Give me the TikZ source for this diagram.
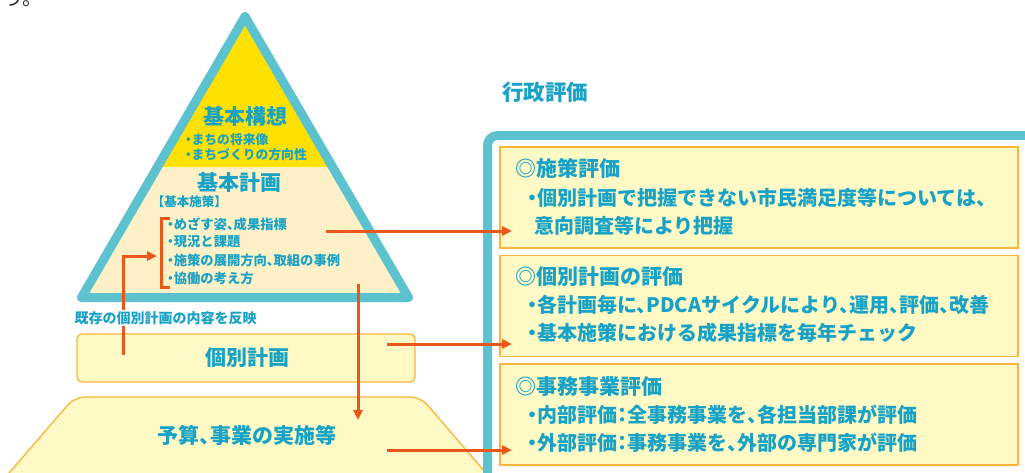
\documentclass[tikz,border=0pt]{standalone}
\usepackage{fontspec}
\setmainfont{Noto Sans CJK JP}[RawFeature=+halt]
\usetikzlibrary{arrows.meta}
\definecolor{tealc}{HTML}{5DC2D0}
\definecolor{txt}{HTML}{17A2C6}
\definecolor{ylw}{HTML}{FFE100}
\definecolor{pale}{HTML}{FFF1C7}
\definecolor{boxfill}{HTML}{FFF9C6}
\definecolor{boxline}{HTML}{FBB43C}
\definecolor{arr}{HTML}{E9581B}
\begin{document}
\begin{tikzpicture}[x=1pt,y=-1pt,
  t/.style={text=txt,inner sep=0pt},
  big/.style={t,font=\fontsize{21}{24}\selectfont\bfseries},
  head/.style={t,font=\fontsize{21}{24}\selectfont\bfseries,anchor=west},
  body/.style={t,font=\fontsize{20}{24}\selectfont\bfseries,anchor=west},
  small/.style={t,font=\fontsize{13.3}{15}\selectfont\bfseries,anchor=west},
  smaller/.style={t,font=\fontsize{12.8}{15}\selectfont\bfseries,anchor=west},
  evalbox/.style={draw=boxline,fill=boxfill,line width=1.3pt,inner sep=0pt,minimum width=518pt},
  conn/.style={draw=arr,line width=3pt},
  arrowc/.style={conn,-{Triangle[length=10pt,width=9pt]}}
]
\useasboundingbox (0,0) rectangle (1025,472);
% fragment of preceding text
\node[inner sep=0pt,anchor=base west,font=\fontsize{20}{24}\selectfont,text=black!85] (frag) at (3,5) {う。};

% pyramid
\path[fill=pale] (245,16.5) -- (81.5,297.5) -- (408.5,297.5) -- cycle;
\begin{scope}
  \clip (245,16.5) -- (81.5,297.5) -- (408.5,297.5) -- cycle;
  \fill[ylw] (0,0) rectangle (500,167);
\end{scope}
\draw[tealc,line width=9pt,line join=round] (245,16.5) -- (81.5,297.5) -- (408.5,297.5) -- cycle;

\node[big] (koso) at (245,117) {基本構想};
\node[smaller] (k1) at (185,140) {・まちの将来像};
\node[smaller] (k2) at (185,155) {・まちづくりの方向性};
\node[big] (keikaku) at (239,183) {基本計画};
\node[smaller,font=\fontsize{12.5}{15}\selectfont\bfseries] (sesaku) at (158,202) {【基本施策】};
\node[small] (i1) at (167,224) {・めざす姿、成果指標};
\node[small] (i2) at (167,242) {・現況と課題};
\node[small] (i3) at (167,260) {・施策の展開方向、取組の事例};
\node[small] (i4) at (167,278) {・協働の考え方};

% individual plan box
\node[draw=boxline,fill=boxfill,line width=1.3pt,rounded corners=5pt,minimum width=338pt,minimum height=48pt,inner sep=0pt] (kobetsubox) at (246,358) {};
\node[big] (kobetsu) at (247,358) {個別計画};

% budget trapezoid
\path[draw=boxline,fill=boxfill,line width=1.3pt,rounded corners=10pt] (-9,494) -- (74.6,397) -- (420.6,397) -- (504,494);
\node[big] (yosan) at (247,435) {予算、事業の実施等};

% administrative evaluation frame
\draw[tealc,line width=9pt,rounded corners=10pt] (487.5,500) -- (487.5,135.5) -- (1045,135.5);
\node[head,font=\fontsize{21.5}{24}\selectfont\bfseries] (gyosei) at (502,92) {行政評価};

\node[evalbox,minimum height=101pt] (b1) at (759,197.5) {};
\node[evalbox,minimum height=101pt] (b2) at (759,305.75) {};
\node[evalbox,minimum height=101pt] (b3) at (759,414.5) {};

\node[head] (h1) at (515,168) {◎施策評価};
\node[body] (l11) at (527,198) {・個別計画で把握できない市民満足度等については、};
\node[body] (l12) at (534,226) {意向調査等により把握};
\node[head] (h2) at (515,277) {◎個別計画の評価};
\node[body] (l21) at (527,305) {・各計画毎に、PDCAサイクルにより、運用、評価、改善};
\node[body] (l22) at (527,333) {・基本施策における成果指標を毎年チェック};
\node[head] (h3) at (515,387) {◎事務事業評価};
\node[body] (l31) at (527,415) {・内部評価：全事務事業を、各担当部課が評価};
\node[body] (l32) at (527,443) {・外部評価：事務事業を、外部の専門家が評価};

% connectors
\coordinate (a1s) at (326,231); \coordinate (a1e) at (512,231);
\coordinate (a2s) at (387,344); \coordinate (a2e) at (512,344);
\coordinate (a3s) at (387,450); \coordinate (a3e) at (512,450);
\coordinate (dns) at (358,284); \coordinate (dne) at (420,420);
\coordinate (ups) at (123,355); \coordinate (upc) at (123,256); \coordinate (upe) at (157,256);
\draw[arrowc] (a1s) -- (a1e);
\draw[arrowc] (a2s) -- (a2e);
\draw[arrowc] (a3s) -- (a3e);
\draw[arrowc] (dns) -- (dns |- dne);
\draw[arrowc] (ups) -- (upc) -- (upe);
% bracket
\draw[conn] (170,218) -- (161,218) -- (161,287) -- (170,287);

\node[t,fill=white,inner sep=1.5pt,font=\fontsize{14}{16}\selectfont\bfseries] (hanei) at (165.5,318) {既存の個別計画の内容を反映};
\end{tikzpicture}
\end{document}
